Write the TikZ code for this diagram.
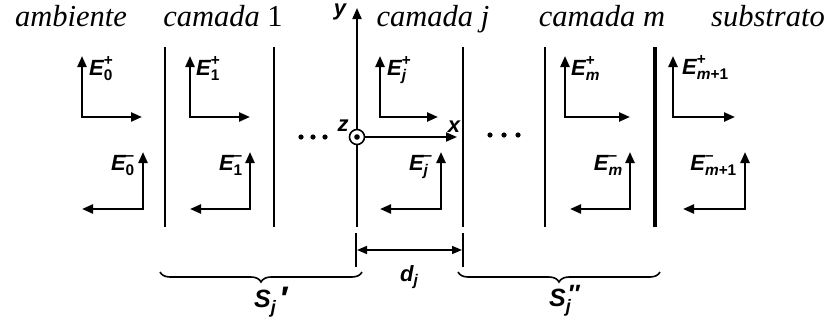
\documentclass[tikz,border=0pt]{standalone}
\usepackage{amsmath}
\usepackage{fontspec}
\setmainfont{Liberation Serif}
\setsansfont{Liberation Sans}
\usetikzlibrary{arrows.meta,decorations.pathreplacing}
\newcommand\Elab[2]{$\textsf{\bfseries\itshape E}^{\textsf{\bfseries #1}}_{\textsf{\bfseries #2}}$}
\newcommand\Slab[3]{\textsf{\bfseries\itshape S\rlap{\raisebox{-6pt}{\fontsize{18}{20}\selectfont j}}\kern#2\raisebox{#3}{\upshape #1}}}
\tikzset{
  bound/.style={line width=2.6pt},
  vec/.style={line width=2.3pt, line join=miter, {Triangle[length=11pt,width=9pt]}-{Triangle[length=11pt,width=9pt]}},
  axis/.style={line width=1.8pt, -{Triangle[length=11pt,width=9pt]}},
  title/.style={font=\fontsize{30.5}{34}\selectfont\itshape, anchor=base, inner sep=0pt},
  elab/.style={font=\fontsize{22}{26}\selectfont, inner sep=0pt},
  axlab/.style={font=\fontsize{22}{26}\selectfont\sffamily\bfseries\itshape, inner sep=0pt, anchor=base},
  slab/.style={font=\fontsize{25}{30}\selectfont, inner sep=0pt, anchor=base west},
  brc/.style={decorate, decoration={brace,mirror,amplitude=10pt}, line width=1.6pt},
  dotc/.style={fill=black},
}
\begin{document}
\begin{tikzpicture}[x=1pt,y=-1pt]
\useasboundingbox (0,0) rectangle (832,332);

% titles
\node[title] (t0) at (71,27) {ambiente};
\node[title] (t1) at (223,27) {camada \upshape 1};
\node[title] (tj) at (433,27) {camada j};
\node[title] (tm) at (602,27) {camada m};
\node[title] (ts) at (768,27) {substrato};

% boundaries
\foreach \n/\x in {b1/165, b2/274, bj/357, bk/463, bm/545} {
  \coordinate (\n t) at (\x,47);
  \coordinate (\n b) at (\x,227);
  \draw[bound] (\n t) -- (\n b);
}
\coordinate (bst) at (655,47);
\coordinate (bsb) at (655,227);
\draw[line width=3.6pt] (bst) -- (bsb);

% y axis
\coordinate (ytip) at (357,8);
\draw[axis] (bjt) -- (ytip);
\node[axlab] (ylab) at (340,16) {y};

% z circle and x axis
\node[circle, draw, fill=white, line width=1.6pt, minimum size=15pt, inner sep=0pt] (zc) at (357,137) {};
\fill (zc.center) circle (2.8pt);
\coordinate (xtip) at (457,137);
\draw[axis] (zc.east) -- (xtip);
\node[axlab] (zlab) at (343,131) {z};
\node[axlab] (xlab) at (454,132) {x};

% E+ vectors
\foreach \n/\xv/\xh in {p0/82/142, p1/190/250, pj/380/438, pm/565/630, pq/673/735} {
  \coordinate (v\n) at (\xv,56);
  \coordinate (c\n) at (\xv,117);
  \coordinate (h\n) at (\xh,117);
  \draw[vec] (v\n) -- (c\n) -- (h\n);
}
% E- vectors
\foreach \n/\xv/\xh in {m0/143/82, m1/250/190, mj/441/380, mm/630/570, mq/745/683} {
  \coordinate (v\n) at (\xv,152);
  \coordinate (c\n) at (\xv,209);
  \coordinate (h\n) at (\xh,209);
  \draw[vec] (v\n) -- (c\n) -- (h\n);
}

% E labels
\node[elab, anchor=base west] (lp0) at (89,75) {\Elab{+}{0}};
\node[elab, anchor=base west] (lp1) at (196,75) {\Elab{+}{1}};
\node[elab, anchor=base west] (lpj) at (387,75) {\Elab{+}{\itshape j}};
\node[elab, anchor=base west] (lpm) at (571,75) {\Elab{+}{\itshape m}};
\node[elab, anchor=base west] (lpq) at (682,74) {\Elab{+}{\itshape m\upshape +1}};

\node[elab, anchor=base east] (lm0) at (135,170) {\Elab{--}{0}};
\node[elab, anchor=base east] (lm1) at (243,170) {\Elab{--}{1}};
\node[elab, anchor=base east] (lmj) at (433,170) {\Elab{--}{\itshape j}};
\node[elab, anchor=base east] (lmm) at (623,170) {\Elab{--}{\itshape m}};
\node[elab, anchor=base east] (lmq) at (737,170) {\Elab{--}{\itshape m\upshape +1}};

% dots
\foreach \x in {301,313,325} \fill[dotc] (\x,137) circle (2.6pt);
\foreach \x in {490,504,518} \fill[dotc] (\x,135) circle (2.6pt);

% thickness d_j
\coordinate (dla) at (356,233);
\coordinate (dlb) at (356,267);
\coordinate (dra) at (463,233);
\coordinate (drb) at (463,267);
\draw[line width=2pt] (dla) -- (dlb);
\draw[line width=2pt] (dra) -- (drb);
\coordinate (dl) at (357,250);
\coordinate (dr) at (462,250);
\draw[line width=1.6pt, {Triangle[length=10pt,width=8pt]}-{Triangle[length=10pt,width=8pt]}] (dl) -- (dr);
\node[elab, anchor=base west] (dlab) at (400,281) {$\textsf{\bfseries\itshape d}_{\textsf{\bfseries\itshape j}}$};

% braces
\coordinate (s1a) at (160,272);
\coordinate (s1b) at (362,272);
\coordinate (s2a) at (458,272);
\coordinate (s2b) at (660,272);
\draw[brc] (s1a) -- (s1b);
\draw[brc] (s2a) -- (s2b);
\node[slab] (sl1) at (254,307) {\Slab{\fontsize{34}{34}\selectfont ′}{10pt}{-3pt}};
\node[slab] (sl2) at (549,306) {\Slab{\bfseries ″}{3pt}{4pt}};
\end{tikzpicture}
\end{document}
